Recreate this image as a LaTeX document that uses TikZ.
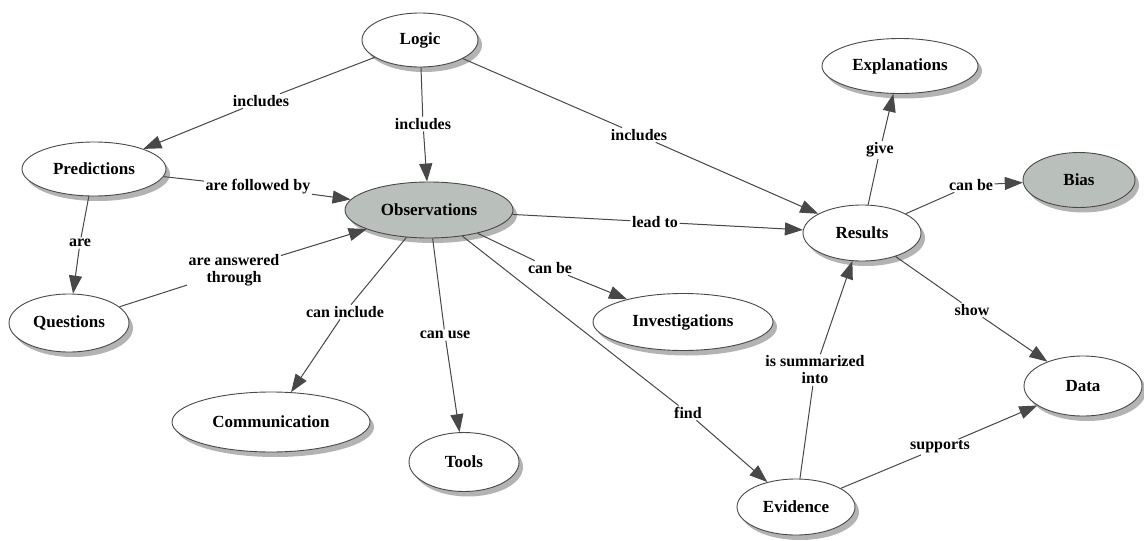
\documentclass[tikz,border=0pt]{standalone}
\usepackage{fontspec}
\setmainfont{Liberation Serif}
\usetikzlibrary{shapes.geometric,arrows.meta,shadows}
\definecolor{edgegray}{RGB}{72,72,72}
\definecolor{concept}{RGB}{185,192,187}
\begin{document}
\begin{tikzpicture}[x=1pt,y=-1pt,
  cnode/.style={ellipse,draw=edgegray,line width=0.9pt,fill=white,inner sep=0pt,
    font=\fontsize{17}{19}\selectfont\bfseries,
    drop shadow={shadow xshift=4pt,shadow yshift=-5pt,fill=black!40,opacity=0.75}},
  gnode/.style={cnode,fill=concept},
  lbl/.style={fill=white,inner sep=1.5pt,align=center,
    font=\fontsize{16}{17}\selectfont\bfseries},
  link/.style={draw=edgegray,line width=1pt},
  arr/.style={link,-{Triangle[length=18pt,width=13pt]},fill=edgegray},
]
\useasboundingbox (0,0) rectangle (1144,541);

% concepts
\node[cnode,minimum width=116pt,minimum height=54pt] (logic) at (420,40) {Logic};
\node[gnode,minimum width=168pt,minimum height=56pt] (obs) at (429,210) {Observations};
\node[cnode,minimum width=144pt,minimum height=54pt] (pred) at (94,169) {Predictions};
\node[cnode,minimum width=120pt,minimum height=58pt] (ques) at (69,323) {Questions};
\node[cnode,minimum width=156pt,minimum height=55pt] (expl) at (900,66) {Explanations};
\node[cnode,minimum width=118pt,minimum height=56pt] (res) at (862,233) {Results};
\node[gnode,minimum width=112pt,minimum height=55pt] (bias) at (1079,180) {Bias};
\node[cnode,minimum width=180pt,minimum height=57pt] (inv) at (683,322) {Investigations};
\node[cnode,minimum width=198pt,minimum height=60pt] (comm) at (271,422) {Communication};
\node[cnode,minimum width=110pt,minimum height=59pt] (tools) at (464,462) {Tools};
\node[cnode,minimum width=118pt,minimum height=60pt] (data) at (1083,386) {Data};
\node[cnode,minimum width=118pt,minimum height=56pt] (evid) at (796,507) {Evidence};

% linking phrases
\node[lbl] (l1) at (261,101) {includes};
\node[lbl] (l2) at (423,124) {includes};
\node[lbl] (l3) at (639,135) {includes};
\node[lbl] (l4) at (258,187) {are followed by};
\node[lbl] (l5) at (80,243) {are};
\node[lbl] (l6) at (234,270) {are answered\\through};
\node[lbl] (l7) at (655,222) {lead to};
\node[lbl] (l8) at (550,268) {can be};
\node[lbl] (l9) at (345,312) {can include};
\node[lbl] (l10) at (445,335) {can use};
\node[lbl] (l11) at (688,413) {find};
\node[lbl] (l12) at (880,150) {give};
\node[lbl] (l13) at (971,185) {can be};
\node[lbl] (l14) at (972,310) {show};
\node[lbl] (l15) at (815,370) {is summarized\\into};
\node[lbl] (l16) at (940,447) {supports};

% links: concept -- phrase -> concept
\draw[link] (logic) -- (l1); \draw[arr] (l1) -- (pred);
\draw[link] (logic) -- (l2); \draw[arr] (l2) -- (obs);
\draw[link] (logic) -- (l3); \draw[arr] (l3) -- (res);
\draw[link] (pred) -- (l4); \draw[arr] (l4) -- (obs);
\draw[link] (pred) -- (l5); \draw[arr] (l5) -- (ques);
\draw[link] (ques) -- (l6); \draw[arr] (l6) -- (obs);
\draw[link] (obs) -- (l7); \draw[arr] (l7) -- (res);
\draw[link] (obs) -- (l8); \draw[arr] (l8) -- (inv);
\draw[link] (obs) -- (l9); \draw[arr] (l9) -- (comm);
\draw[link] (obs) -- (l10); \draw[arr] (l10) -- (tools);
\draw[link] (obs) -- (l11); \draw[arr] (l11) -- (evid);
\draw[link] (res) -- (l12); \draw[arr] (l12) -- (expl);
\draw[link] (res) -- (l13); \draw[arr] (l13) -- (bias);
\draw[link] (res) -- (l14); \draw[arr] (l14) -- (data);
\draw[link] (evid) -- (l15); \draw[arr] (l15) -- (res);
\draw[link] (evid) -- (l16); \draw[arr] (l16) -- (data);
\end{tikzpicture}
\end{document}
